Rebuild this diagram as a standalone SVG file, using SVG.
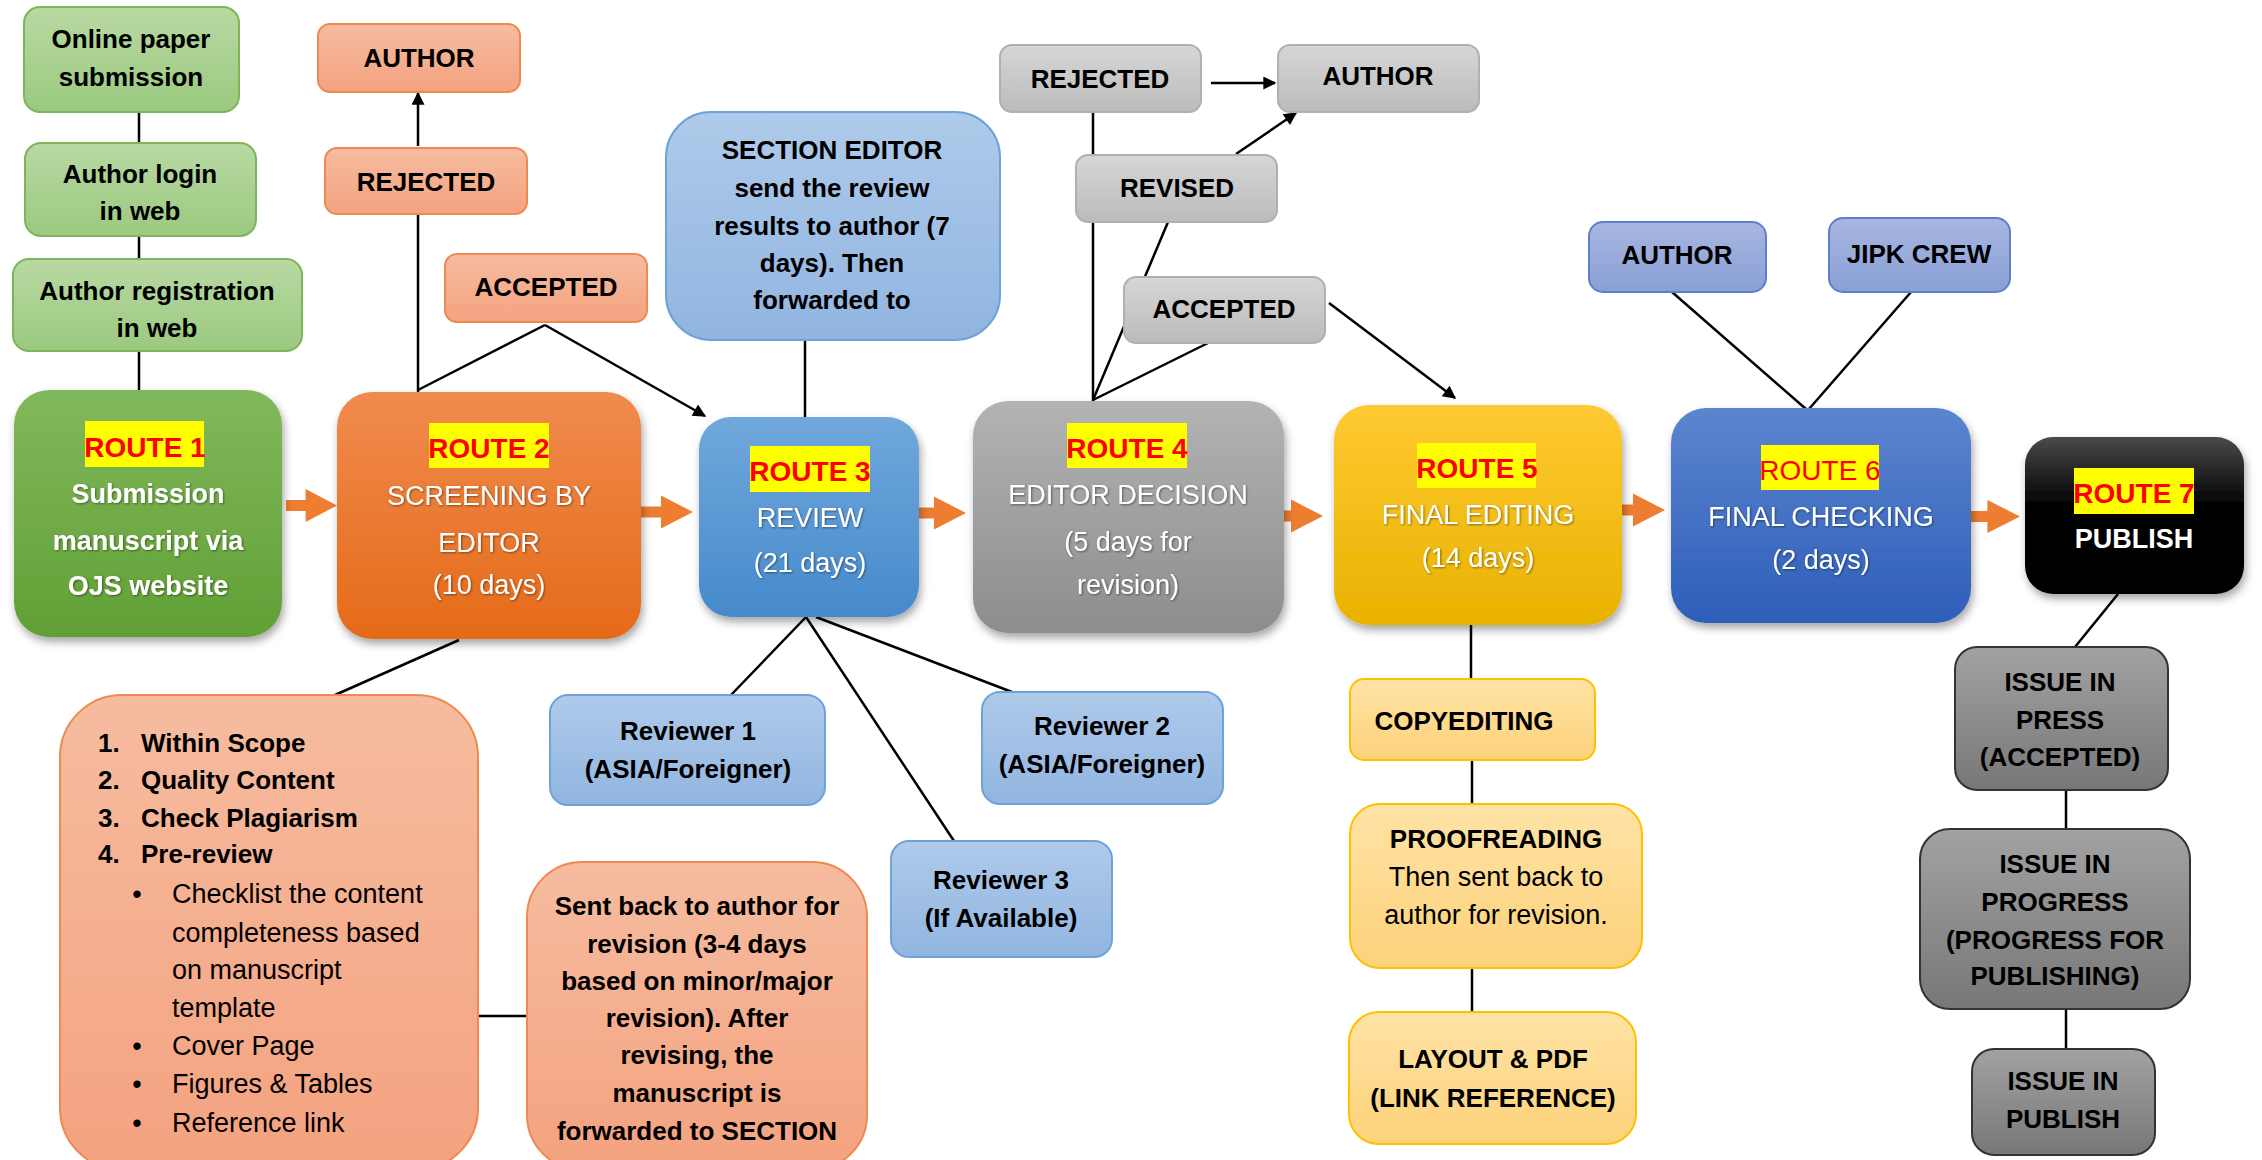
<svg xmlns="http://www.w3.org/2000/svg" xmlns:xlink="http://www.w3.org/1999/xlink" width="2262" height="1160" viewBox="0 0 2262 1160">
<defs>
<style>
text{font-family:"Liberation Sans",Arial,sans-serif;}
.lb{font-size:26px;font-weight:bold;fill:#000;text-anchor:middle;}
.lr{font-size:27px;fill:#000;text-anchor:middle;}
.st{font-size:26px;font-weight:bold;fill:#000;}
.sr{font-size:27px;fill:#000;}
.rl{font-size:28px;font-weight:bold;fill:#ff0000;text-anchor:middle;}
.rw{font-size:27px;fill:#fff;text-anchor:middle;}
.rwb{font-size:27px;font-weight:bold;fill:#fff;text-anchor:middle;}
.hl{fill:#ffff00;}
.ln{stroke:#000;stroke-width:2.5;fill:none;}
.ar{stroke:#000;stroke-width:2.5;fill:none;marker-end:url(#ah);}
.ba{fill:#ed7d31;}
</style>
<marker id="ah" viewBox="0 0 10 10" refX="9" refY="5" markerUnits="userSpaceOnUse" markerWidth="15" markerHeight="13" orient="auto">
<path d="M0,0 L10,5 L0,10 Z" fill="#000"/>
</marker>
<filter id="sh" x="-10%" y="-10%" width="125%" height="130%">
<feDropShadow dx="2" dy="5" stdDeviation="4" flood-color="#000" flood-opacity="0.35"/>
</filter>
<filter id="ts" x="-5%" y="-20%" width="110%" height="140%">
<feDropShadow dx="1" dy="1" stdDeviation="1" flood-color="#000" flood-opacity="0.45"/>
</filter>
<linearGradient id="gG" x1="0" y1="0" x2="0" y2="1"><stop offset="0" stop-color="#82b85c"/><stop offset="1" stop-color="#60a035"/></linearGradient>
<linearGradient id="gO" x1="0" y1="0" x2="0" y2="1"><stop offset="0" stop-color="#f08b4e"/><stop offset="1" stop-color="#e56a18"/></linearGradient>
<linearGradient id="gB" x1="0" y1="0" x2="0" y2="1"><stop offset="0" stop-color="#70a8dc"/><stop offset="1" stop-color="#468acb"/></linearGradient>
<linearGradient id="gY" x1="0" y1="0" x2="0" y2="1"><stop offset="0" stop-color="#b3b3b3"/><stop offset="1" stop-color="#8d8d8d"/></linearGradient>
<linearGradient id="gA" x1="0" y1="0" x2="0" y2="1"><stop offset="0" stop-color="#ffc933"/><stop offset="1" stop-color="#e8b200"/></linearGradient>
<linearGradient id="gD" x1="0" y1="0" x2="0" y2="1"><stop offset="0" stop-color="#5c85cf"/><stop offset="1" stop-color="#2e5eb9"/></linearGradient>
<linearGradient id="gK" x1="0" y1="0" x2="0" y2="1"><stop offset="0" stop-color="#4a4a4a"/><stop offset="0.45" stop-color="#000"/><stop offset="1" stop-color="#000"/></linearGradient>
<linearGradient id="lG" x1="0" y1="0" x2="0" y2="1"><stop offset="0" stop-color="#b8d9a3"/><stop offset="1" stop-color="#9bc97f"/></linearGradient>
<linearGradient id="lO" x1="0" y1="0" x2="0" y2="1"><stop offset="0" stop-color="#f6bca0"/><stop offset="1" stop-color="#f4a27f"/></linearGradient>
<linearGradient id="lB" x1="0" y1="0" x2="0" y2="1"><stop offset="0" stop-color="#afcaea"/><stop offset="1" stop-color="#91b5e0"/></linearGradient>
<linearGradient id="lY" x1="0" y1="0" x2="0" y2="1"><stop offset="0" stop-color="#d6d6d6"/><stop offset="1" stop-color="#bbbbbb"/></linearGradient>
<linearGradient id="lP" x1="0" y1="0" x2="0" y2="1"><stop offset="0" stop-color="#a8b7e1"/><stop offset="1" stop-color="#899fd6"/></linearGradient>
<linearGradient id="lA" x1="0" y1="0" x2="0" y2="1"><stop offset="0" stop-color="#fee3a6"/><stop offset="1" stop-color="#fdd27a"/></linearGradient>
<linearGradient id="lK" x1="0" y1="0" x2="0" y2="1"><stop offset="0" stop-color="#a2a2a2"/><stop offset="1" stop-color="#777777"/></linearGradient>
<path id="barrow" d="M0,-5.5 H20 V-16.5 L52,0 L20,16.5 V5.5 H0 Z"/>
</defs>
<rect width="2262" height="1160" fill="#fff"/>

<g id="connectors">
<line class="ln" x1="139" y1="112" x2="139" y2="143"/>
<line class="ln" x1="139" y1="236" x2="139" y2="259"/>
<line class="ln" x1="139" y1="351" x2="139" y2="390"/>
<line class="ln" x1="418" y1="214" x2="418" y2="392"/>
<line class="ar" x1="418" y1="146" x2="418" y2="93"/>
<line class="ln" x1="545" y1="325" x2="418" y2="390"/>
<line class="ar" x1="545" y1="325" x2="705" y2="416"/>
<line class="ln" x1="805" y1="340" x2="805" y2="417"/>
<line class="ln" x1="1093" y1="112" x2="1093" y2="401"/>
<line class="ln" x1="1168" y1="222" x2="1093" y2="400"/>
<line class="ln" x1="1208" y1="343" x2="1093" y2="400"/>
<line class="ar" x1="1211" y1="83" x2="1275" y2="83"/>
<line class="ar" x1="1236" y1="154" x2="1296" y2="113"/>
<line class="ar" x1="1329" y1="303" x2="1455" y2="398"/>
<line class="ln" x1="806" y1="617" x2="731" y2="695"/>
<line class="ln" x1="806" y1="617" x2="954" y2="841"/>
<line class="ln" x1="816" y1="617" x2="1012" y2="692"/>
<line class="ln" x1="459" y1="640" x2="335" y2="695"/>
<line class="ln" x1="478" y1="1016" x2="527" y2="1016"/>
<line class="ln" x1="1471" y1="625" x2="1471" y2="679"/>
<line class="ln" x1="1472" y1="760" x2="1472" y2="804"/>
<line class="ln" x1="1472" y1="968" x2="1472" y2="1012"/>
<line class="ln" x1="1672" y1="292" x2="1806" y2="409"/>
<line class="ln" x1="1911" y1="292" x2="1809" y2="409"/>
<line class="ln" x1="2118" y1="594" x2="2075" y2="647"/>
<line class="ln" x1="2066" y1="790" x2="2066" y2="829"/>
<line class="ln" x1="2066" y1="1009" x2="2066" y2="1049"/>
<use xlink:href="#barrow" href="#barrow" class="ba" transform="translate(286,505.5) scale(0.98,1)"/>
<use xlink:href="#barrow" href="#barrow" class="ba" transform="translate(641,512)"/>
<use xlink:href="#barrow" href="#barrow" class="ba" transform="translate(914,513)"/>
<use xlink:href="#barrow" href="#barrow" class="ba" transform="translate(1271,516)"/>
<use xlink:href="#barrow" href="#barrow" class="ba" transform="translate(1613,510)"/>
<use xlink:href="#barrow" href="#barrow" class="ba" transform="translate(1967,516.5) scale(1.02,1)"/>
</g>

<g id="n-online">
<rect x="24" y="7" width="215" height="105" rx="16" fill="url(#lG)" stroke="#7eb55a" stroke-width="2"/>
<text class="lb" x="131" y="48">Online paper</text>
<text class="lb" x="131" y="86">submission</text>
</g>
<g id="n-login">
<rect x="25" y="143" width="231" height="93" rx="16" fill="url(#lG)" stroke="#7eb55a" stroke-width="2"/>
<text class="lb" x="140" y="183">Author login</text>
<text class="lb" x="140" y="220">in web</text>
</g>
<g id="n-registration">
<rect x="13" y="259" width="289" height="92" rx="16" fill="url(#lG)" stroke="#7eb55a" stroke-width="2"/>
<text class="lb" x="157" y="300">Author registration</text>
<text class="lb" x="157" y="337">in web</text>
</g>

<g id="n-author-o">
<rect x="318" y="24" width="202" height="68" rx="12" fill="url(#lO)" stroke="#ee8a4f" stroke-width="2"/>
<text class="lb" x="419" y="67">AUTHOR</text>
</g>
<g id="n-rejected-o">
<rect x="325" y="148" width="202" height="66" rx="12" fill="url(#lO)" stroke="#ee8a4f" stroke-width="2"/>
<text class="lb" x="426" y="191">REJECTED</text>
</g>
<g id="n-accepted-o">
<rect x="445" y="254" width="202" height="68" rx="12" fill="url(#lO)" stroke="#ee8a4f" stroke-width="2"/>
<text class="lb" x="546" y="296">ACCEPTED</text>
</g>

<g id="n-section-editor">
<rect x="666" y="112" width="334" height="228" rx="45" fill="url(#lB)" stroke="#6ea3d8" stroke-width="2"/>
<text class="lb" x="832" y="159">SECTION EDITOR</text>
<text class="lb" x="832" y="197">send the review</text>
<text class="lb" x="832" y="235">results to author (7</text>
<text class="lb" x="832" y="272">days). Then</text>
<text class="lb" x="832" y="309">forwarded to</text>
</g>

<g id="n-rejected-g">
<rect x="1000" y="45" width="201" height="67" rx="12" fill="url(#lY)" stroke="#b0b0b0" stroke-width="2"/>
<text class="lb" x="1100" y="88">REJECTED</text>
</g>
<g id="n-author-g">
<rect x="1278" y="45" width="201" height="67" rx="12" fill="url(#lY)" stroke="#b0b0b0" stroke-width="2"/>
<text class="lb" x="1378" y="85">AUTHOR</text>
</g>
<g id="n-revised-g">
<rect x="1076" y="155" width="201" height="67" rx="12" fill="url(#lY)" stroke="#b0b0b0" stroke-width="2"/>
<text class="lb" x="1177" y="197">REVISED</text>
</g>
<g id="n-accepted-g">
<rect x="1124" y="277" width="201" height="66" rx="12" fill="url(#lY)" stroke="#b0b0b0" stroke-width="2"/>
<text class="lb" x="1224" y="318">ACCEPTED</text>
</g>

<g id="n-author-b">
<rect x="1589" y="222" width="177" height="70" rx="14" fill="url(#lP)" stroke="#5d80c8" stroke-width="2"/>
<text class="lb" x="1677" y="264">AUTHOR</text>
</g>
<g id="n-jipk">
<rect x="1829" y="218" width="181" height="74" rx="14" fill="url(#lP)" stroke="#5d80c8" stroke-width="2"/>
<text class="lb" x="1919" y="263">JIPK CREW</text>
</g>

<g id="n-route1" filter="url(#sh)">
<rect x="14" y="390" width="268" height="247" rx="35" fill="url(#gG)"/>
</g>
<g id="n-route1-t">
<rect class="hl" x="85" y="421" width="119" height="46"/>
<text class="rl" x="145" y="457">ROUTE 1</text>
<g filter="url(#ts)">
<text class="rwb" x="148" y="503">Submission</text>
<text class="rwb" x="148" y="550">manuscript via</text>
<text class="rwb" x="148" y="595">OJS website</text>
</g>
</g>

<g id="n-route2" filter="url(#sh)">
<rect x="337" y="392" width="304" height="247" rx="35" fill="url(#gO)"/>
</g>
<g id="n-route2-t">
<rect class="hl" x="429" y="423" width="120" height="45"/>
<text class="rl" x="489" y="458">ROUTE 2</text>
<g filter="url(#ts)">
<text class="rw" x="489" y="505">SCREENING BY</text>
<text class="rw" x="489" y="552">EDITOR</text>
<text class="rw" x="489" y="594">(10 days)</text>
</g>
</g>

<g id="n-route3" filter="url(#sh)">
<rect x="699" y="417" width="220" height="200" rx="32" fill="url(#gB)"/>
</g>
<g id="n-route3-t">
<rect class="hl" x="750" y="446" width="120" height="46"/>
<text class="rl" x="810" y="481">ROUTE 3</text>
<g filter="url(#ts)">
<text class="rw" x="810" y="527">REVIEW</text>
<text class="rw" x="810" y="572">(21 days)</text>
</g>
</g>

<g id="n-route4" filter="url(#sh)">
<rect x="973" y="401" width="311" height="232" rx="35" fill="url(#gY)"/>
</g>
<g id="n-route4-t">
<rect class="hl" x="1067" y="423" width="120" height="45"/>
<text class="rl" x="1127" y="458">ROUTE 4</text>
<g filter="url(#ts)">
<text class="rw" x="1128" y="504">EDITOR DECISION</text>
<text class="rw" x="1128" y="551">(5 days for</text>
<text class="rw" x="1128" y="594">revision)</text>
</g>
</g>

<g id="n-route5" filter="url(#sh)">
<rect x="1334" y="405" width="288" height="220" rx="35" fill="url(#gA)"/>
</g>
<g id="n-route5-t">
<rect class="hl" x="1417" y="443" width="119" height="45"/>
<text class="rl" x="1477" y="478">ROUTE 5</text>
<g filter="url(#ts)">
<text class="rw" x="1478" y="524">FINAL EDITING</text>
<text class="rw" x="1478" y="567">(14 days)</text>
</g>
</g>

<g id="n-route6" filter="url(#sh)">
<rect x="1671" y="408" width="300" height="215" rx="35" fill="url(#gD)"/>
</g>
<g id="n-route6-t">
<rect class="hl" x="1761" y="445" width="118" height="45"/>
<text class="rl" x="1820" y="480" style="font-weight:normal">ROUTE 6</text>
<g filter="url(#ts)">
<text class="rw" x="1821" y="526">FINAL CHECKING</text>
<text class="rw" x="1821" y="569">(2 days)</text>
</g>
</g>

<g id="n-route7" filter="url(#sh)">
<rect x="2025" y="437" width="219" height="157" rx="28" fill="url(#gK)"/>
</g>
<g id="n-route7-t">
<rect class="hl" x="2074" y="468" width="120" height="46"/>
<text class="rl" x="2134" y="503">ROUTE 7</text>
<text class="rwb" x="2134" y="548">PUBLISH</text>
</g>

<g id="n-checklist">
<rect x="60" y="695" width="418" height="475" rx="62" fill="url(#lO)" stroke="#ee8a4f" stroke-width="2"/>
<text class="st" x="98" y="752">1.</text><text class="st" x="141" y="752">Within Scope</text>
<text class="st" x="98" y="789">2.</text><text class="st" x="141" y="789">Quality Content</text>
<text class="st" x="98" y="827">3.</text><text class="st" x="141" y="827">Check Plagiarism</text>
<text class="st" x="98" y="863">4.</text><text class="st" x="141" y="863">Pre-review</text>
<text class="sr" x="137" y="903" text-anchor="middle">•</text><text class="sr" x="172" y="903">Checklist the content</text>
<text class="sr" x="172" y="942">completeness based</text>
<text class="sr" x="172" y="979">on manuscript</text>
<text class="sr" x="172" y="1017">template</text>
<text class="sr" x="137" y="1055" text-anchor="middle">•</text><text class="sr" x="172" y="1055">Cover Page</text>
<text class="sr" x="137" y="1093" text-anchor="middle">•</text><text class="sr" x="172" y="1093">Figures &amp; Tables</text>
<text class="sr" x="137" y="1132" text-anchor="middle">•</text><text class="sr" x="172" y="1132">Reference link</text>
</g>

<g id="n-sentback">
<rect x="527" y="862" width="340" height="308" rx="55" fill="url(#lO)" stroke="#ee8a4f" stroke-width="2"/>
<text class="lb" x="697" y="915">Sent back to author for</text>
<text class="lb" x="697" y="953">revision (3-4 days</text>
<text class="lb" x="697" y="990">based on minor/major</text>
<text class="lb" x="697" y="1027">revision). After</text>
<text class="lb" x="697" y="1064">revising, the</text>
<text class="lb" x="697" y="1102">manuscript is</text>
<text class="lb" x="697" y="1140">forwarded to SECTION</text>
</g>

<g id="n-reviewer1">
<rect x="550" y="695" width="275" height="110" rx="18" fill="url(#lB)" stroke="#6ea3d8" stroke-width="2"/>
<text class="lb" x="688" y="740">Reviewer 1</text>
<text class="lb" x="688" y="778">(ASIA/Foreigner)</text>
</g>
<g id="n-reviewer2">
<rect x="982" y="692" width="241" height="112" rx="18" fill="url(#lB)" stroke="#6ea3d8" stroke-width="2"/>
<text class="lb" x="1102" y="735">Reviewer 2</text>
<text class="lb" x="1102" y="773">(ASIA/Foreigner)</text>
</g>
<g id="n-reviewer3">
<rect x="891" y="841" width="221" height="116" rx="18" fill="url(#lB)" stroke="#6ea3d8" stroke-width="2"/>
<text class="lb" x="1001" y="889">Reviewer 3</text>
<text class="lb" x="1001" y="927">(If Available)</text>
</g>

<g id="n-copyediting">
<rect x="1350" y="679" width="245" height="81" rx="14" fill="url(#lA)" stroke="#ffc000" stroke-width="2"/>
<text class="lb" x="1464" y="730">COPYEDITING</text>
</g>
<g id="n-proofreading">
<rect x="1350" y="804" width="292" height="164" rx="30" fill="url(#lA)" stroke="#ffc000" stroke-width="2"/>
<text class="lb" x="1496" y="848">PROOFREADING</text>
<text class="lr" x="1496" y="886">Then sent back to</text>
<text class="lr" x="1496" y="924">author for revision.</text>
</g>
<g id="n-layout">
<rect x="1349" y="1012" width="287" height="132" rx="30" fill="url(#lA)" stroke="#ffc000" stroke-width="2"/>
<text class="lb" x="1493" y="1068">LAYOUT &amp; PDF</text>
<text class="lb" x="1493" y="1107">(LINK REFERENCE)</text>
</g>

<g id="n-issue-press">
<rect x="1955" y="647" width="213" height="143" rx="22" fill="url(#lK)" stroke="#333" stroke-width="2"/>
<text class="lb" x="2060" y="691">ISSUE IN</text>
<text class="lb" x="2060" y="729">PRESS</text>
<text class="lb" x="2060" y="766">(ACCEPTED)</text>
</g>
<g id="n-issue-progress">
<rect x="1920" y="829" width="270" height="180" rx="30" fill="url(#lK)" stroke="#333" stroke-width="2"/>
<text class="lb" x="2055" y="873">ISSUE IN</text>
<text class="lb" x="2055" y="911">PROGRESS</text>
<text class="lb" x="2055" y="949">(PROGRESS FOR</text>
<text class="lb" x="2055" y="985">PUBLISHING)</text>
</g>
<g id="n-issue-publish">
<rect x="1972" y="1049" width="183" height="106" rx="22" fill="url(#lK)" stroke="#333" stroke-width="2"/>
<text class="lb" x="2063" y="1090">ISSUE IN</text>
<text class="lb" x="2063" y="1128">PUBLISH</text>
</g>
</svg>
